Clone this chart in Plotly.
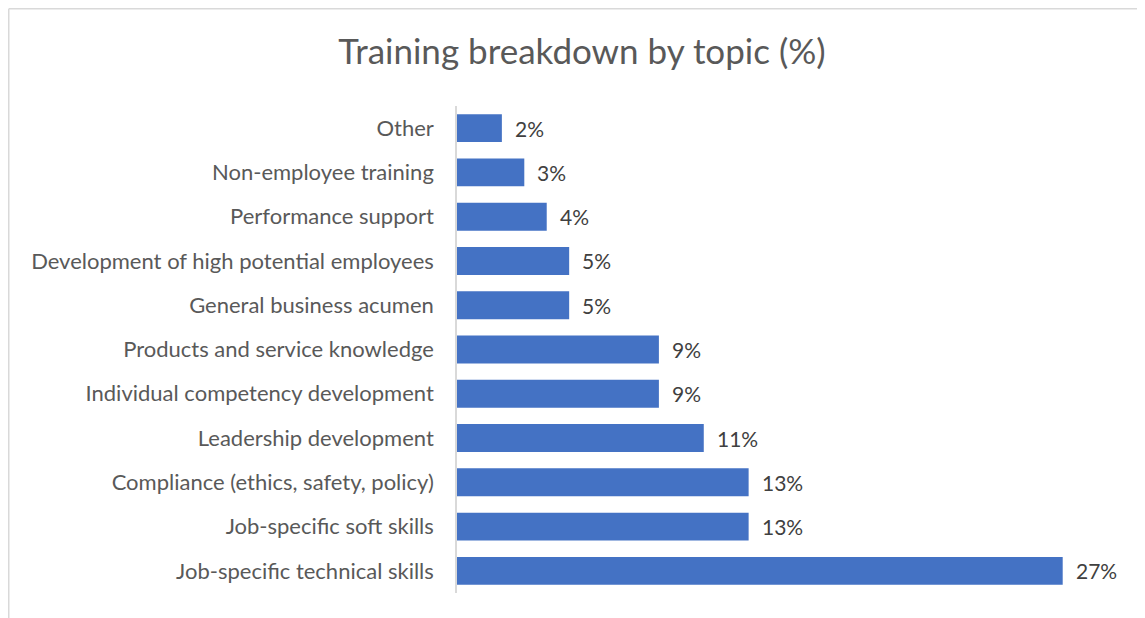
import plotly.graph_objects as go

categories = [
    "Job-specific technical skills",
    "Job-specific soft skills",
    "Compliance (ethics, safety, policy)",
    "Leadership development",
    "Individual competency development",
    "Products and service knowledge",
    "General business acumen",
    "Development of high potential employees",
    "Performance support",
    "Non-employee training",
    "Other",
]
values = [27, 13, 13, 11, 9, 9, 5, 5, 4, 3, 2]
title_text = "Training breakdown by topic (%)"

W, H = 1145, 618
OFF = 8  # page body margin
ML, MR, MT, MB = 457 - OFF, 23, 106 - OFF, 33
FONT = "Lato"

fig = go.Figure()
fig.add_trace(go.Bar(
    x=values, y=categories, orientation="h",
    marker=dict(color="#4472C4", line=dict(width=0)),
    width=0.63, hoverinfo="x+y",
))

annotations = []
for c, v in zip(categories, values):
    annotations.append(dict(
        x=v, y=c, xref="x", yref="y", text=f"{v}%", showarrow=False,
        xanchor="left", xshift=11, yanchor="middle",
        font=dict(family=FONT, size=21, color="#404040"),
    ))

pw = W - ML - MR
ph = H - MT - MB
def px_x(px):
    return (px - ML) / pw
def px_y(py):
    return (H - MB - py) / ph

shapes = [
    dict(type="line", xref="paper", yref="paper",
         x0=px_x(0.75), x1=px_x(W + 5), y0=px_y(0.75), y1=px_y(0.75),
         line=dict(color="#D9D9D9", width=1.5)),
    dict(type="line", xref="paper", yref="paper",
         x0=px_x(0.75), x1=px_x(0.75), y0=px_y(0.75), y1=px_y(H + 5),
         line=dict(color="#D9D9D9", width=1.5)),
]

fig.update_layout(
    width=W, height=H,
    margin=dict(l=ML, r=MR, t=MT, b=MB),
    paper_bgcolor="white", plot_bgcolor="white",
    title=dict(text=title_text, x=(582 - OFF) / W, xanchor="center",
               y=1 - (52 - OFF) / H, yanchor="middle",
               font=dict(family=FONT, size=35, color="#595959")),
    xaxis=dict(range=[0, 30], showgrid=False, zeroline=False,
               showticklabels=False, showline=False, fixedrange=True),
    yaxis=dict(type="category", categoryorder="array", categoryarray=categories,
               showgrid=False, zeroline=False, showline=True,
               linecolor="#D9D9D9", linewidth=1.5,
               ticks="", ticklabelstandoff=17,
               tickfont=dict(family=FONT, size=22, color="#595959")),
    annotations=annotations,
    shapes=shapes,
    showlegend=False,
)

fig.write_html("out.html")
